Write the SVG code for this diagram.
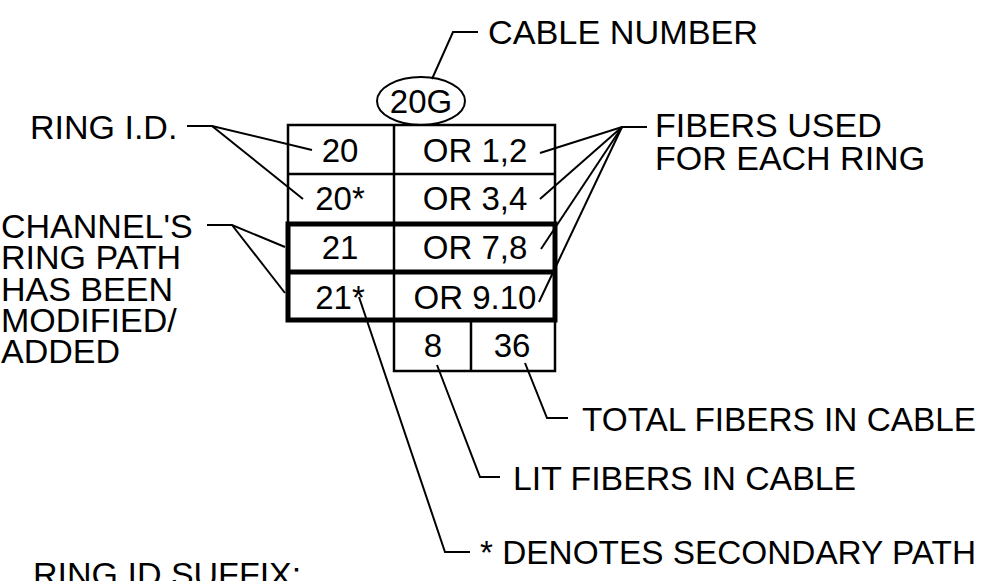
<svg xmlns="http://www.w3.org/2000/svg" width="994" height="581" viewBox="0 0 994 581">
  <style>
    text { font-family: "Liberation Sans", Arial, sans-serif; font-size: 34px; fill: #000; }
    .t { font-size: 33px; text-anchor: middle; }
    .thin { fill: none; stroke: #000; stroke-width: 2.5; }
    .thick { fill: none; stroke: #000; stroke-width: 5; }
    .lead { fill: none; stroke: #000; stroke-width: 2; stroke-linejoin: miter; }
  </style>
  <rect width="994" height="581" fill="#fff"/>

  <g id="cable-number">
    <ellipse cx="421" cy="101" rx="44" ry="24" class="lead"/>
    <text x="421" y="113" class="t">20G</text>
  </g>

  <g id="table">
    <rect x="288" y="125" width="267" height="99" class="thin"/>
    <line x1="288" y1="174" x2="555" y2="174" class="thin"/>
    <line x1="394" y1="125" x2="394" y2="320" class="thin"/>
    <rect x="394" y="320" width="161" height="51" class="thin"/>
    <line x1="471" y1="320" x2="471" y2="371" class="thin"/>
    <rect x="288" y="224" width="267" height="96" class="thick"/>
    <line x1="288" y1="272" x2="555" y2="272" class="thick"/>
    <text x="340" y="162" class="t">20</text>
    <text x="475" y="162" class="t">OR 1,2</text>
    <text x="340" y="210" class="t">20*</text>
    <text x="475" y="210" class="t">OR 3,4</text>
    <text x="340" y="259" class="t">21</text>
    <text x="475" y="259" class="t">OR 7,8</text>
    <text x="340" y="309" class="t">21*</text>
    <text x="475" y="309" class="t">OR 9.10</text>
    <text x="433" y="357" class="t">8</text>
    <text x="512" y="357" class="t">36</text>
  </g>

  <g id="label-cable-number"><text x="488" y="44" textLength="270" lengthAdjust="spacingAndGlyphs">CABLE NUMBER</text></g>
  <g id="label-ring-id"><text x="30" y="139">RING I.D.</text></g>
  <g id="label-channel">
    <text x="1" y="238">CHANNEL'S<tspan x="1" y="269">RING PATH</tspan><tspan x="1" y="301">HAS BEEN</tspan><tspan x="1" y="332">MODIFIED/</tspan><tspan x="1" y="363">ADDED</tspan></text>
  </g>
  <g id="label-fibers-used">
    <text x="655" y="137">FIBERS USED<tspan x="655" y="170">FOR EACH RING</tspan></text>
  </g>
  <g id="label-total"><text x="582" y="431" textLength="394" lengthAdjust="spacingAndGlyphs">TOTAL FIBERS IN CABLE</text></g>
  <g id="label-lit"><text x="513" y="490" textLength="343" lengthAdjust="spacingAndGlyphs">LIT FIBERS IN CABLE</text></g>
  <g id="label-secondary"><text x="480" y="564" textLength="496" lengthAdjust="spacingAndGlyphs">* DENOTES SECONDARY PATH</text></g>
  <g id="label-suffix"><text x="33" y="586">RING ID SUFFIX:</text></g>

  <g id="connectors">
    <polyline points="432,79 453,32 478,32" class="lead"/>
    <polyline points="187,126 212,126 312,150" class="lead"/>
    <line x1="212" y1="126" x2="303" y2="199" class="lead"/>
    <polyline points="207,225 232,225 285,247" class="lead"/>
    <line x1="232" y1="225" x2="285" y2="293" class="lead"/>
    <polyline points="647,127 622,127 540,153" class="lead"/>
    <line x1="622" y1="127" x2="540" y2="199" class="lead"/>
    <line x1="622" y1="127" x2="541" y2="249" class="lead"/>
    <line x1="622" y1="127" x2="539" y2="302" class="lead"/>
    <polyline points="359,297 445,552 470,552" class="lead"/>
    <polyline points="437,365 480,477 500,477" class="lead"/>
    <polyline points="525,363 547,418 568,418" class="lead"/>
  </g>
</svg>
